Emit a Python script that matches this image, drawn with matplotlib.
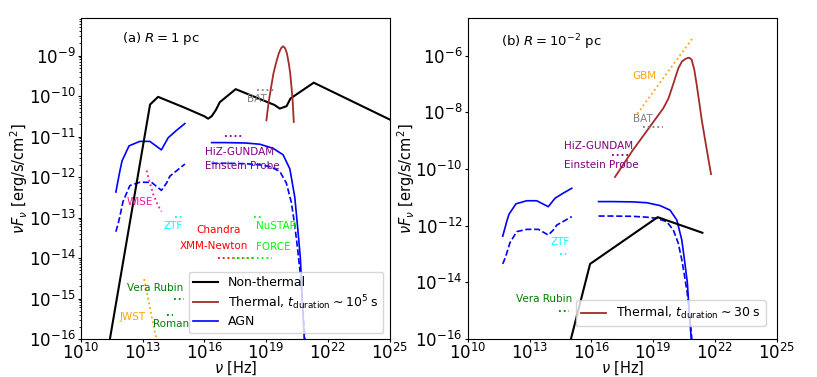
import numpy as np
import matplotlib
matplotlib.use("Agg")
import matplotlib.pyplot as plt

# ---------------- data (log10 nu [Hz], log10 nuFnu [erg/s/cm^2]) ----------------
# Panel (a) R = 1 pc
a_nonthermal_lognu = [11.41, 13.36, 13.75, 15.0, 16.0, 16.18, 16.35, 16.55, 16.75, 17.52, 19.4, 19.66, 19.99, 20.18, 21.31, 25.0]
a_nonthermal_logf = [-16.0, -10.21, -10.02, -10.28, -10.5, -10.56, -10.5, -10.35, -10.15, -9.83, -10.22, -10.31, -10.25, -10.06, -9.67, -10.58]

a_thermal_lognu = [19.01, 19.12, 19.24, 19.35, 19.47, 19.61, 19.72, 19.82, 19.92, 20.01, 20.1, 20.17, 20.23, 20.29, 20.34]
a_thermal_logf = [-10.6, -10.15, -9.78, -9.45, -9.2, -8.95, -8.82, -8.77, -8.82, -8.95, -9.2, -9.45, -9.78, -10.15, -10.64]

# AGN (same in both panels)
agn_opt_lognu = [11.70, 11.89, 12.0, 12.34, 12.86, 13.35, 13.91, 14.24, 14.64, 15.05]
agn_opt_logf = [-12.37, -11.86, -11.6, -11.23, -11.12, -11.12, -11.33, -11.03, -10.85, -10.68]
agn_opt_dash_lognu = [11.70, 11.81, 11.89, 12.05, 12.38, 12.86, 13.43, 13.91, 14.16, 14.32, 15.05]
agn_opt_dash_logf = [-13.35, -13.15, -12.98, -12.6, -12.21, -12.13, -12.13, -12.33, -12.15, -11.98, -11.68]
agn_x_lognu = [16.35, 17.0, 18.0, 18.69, 19.33, 19.82, 20.15, 20.39, 20.52, 20.66, 20.75, 20.85, 20.92]
agn_x_logf = [-11.15, -11.15, -11.16, -11.19, -11.29, -11.45, -11.8, -12.5, -13.2, -14.0, -15.0, -16.0, -16.8]
agn_x_dash_lognu = [16.35, 17.0, 18.0, 18.69, 19.17, 19.66, 19.98, 20.22, 20.39, 20.52, 20.66, 20.78, 20.87, 20.93]
agn_x_dash_logf = [-11.66, -11.66, -11.67, -11.70, -11.74, -11.86, -12.15, -12.62, -13.2, -13.75, -14.4, -15.2, -15.93, -16.6]

# Panel (b) R = 1e-2 pc
b_nonthermal_lognu = [15.01, 15.94, 19.22, 21.39]
b_nonthermal_logf = [-16.0, -13.35, -11.7, -12.25]
b_thermal_lognu = [17.15, 18.0, 19.0, 19.5, 19.75, 20.0, 20.22, 20.4, 20.6, 20.75, 20.87, 21.0, 21.12, 21.25, 21.36, 21.6, 21.81]
b_thermal_logf = [-10.28, -9.35, -8.35, -7.85, -7.5, -6.95, -6.45, -6.2, -6.1, -6.07, -6.14, -6.5, -7.05, -7.7, -8.27, -9.3, -10.18]

# Sensitivity segments: (label, color, lognu list, logf list)
a_sens = [
    ("WISE", "deeppink", [13.19, 13.32, 13.51, 13.75, 13.92], [-11.84, -12.09, -12.42, -12.71, -12.85]),
    ("ZTF", "cyan", [14.56, 14.94], [-12.99, -12.99]),
    ("Chandra/XMM", "red", [16.68, 18.46], [-14.0, -14.0]),
    ("FORCE", "lime", [17.38, 19.28], [-14.0, -14.0]),
    ("NuSTAR", "lime", [18.41, 18.77], [-12.99, -12.99]),
    ("Vera Rubin", "green", [14.51, 15.0], [-15.01, -15.01]),
    ("Roman", "green", [14.19, 14.48], [-15.41, -15.41]),
    ("JWST", "orange", [13.07, 13.22, 13.35, 13.51, 13.67], [-14.52, -14.89, -15.22, -15.63, -16.0]),
    ("HiZ-GUNDAM", "purple", [17.02, 17.9], [-10.99, -10.99]),
    ("BAT", "gray", [18.56, 19.5], [-9.84, -9.84]),
]
b_sens = [
    ("GBM", "orange", [18.23, 20.95], [-8.05, -5.35]),
    ("BAT", "gray", [18.53, 19.5], [-8.51, -8.51]),
    ("HiZ-GUNDAM", "purple", [16.99, 17.77], [-9.51, -9.51]),
    ("ZTF", "cyan", [14.48, 14.76], [-13.0, -13.0]),
    ("Vera Rubin", "green", [14.45, 14.93], [-15.02, -15.02]),
]

# Text labels: (text, color, lognu, logf, ha)
a_texts = [
    ("WISE", "deeppink", 12.85, -12.62, "center"),
    ("ZTF", "cyan", 14.5, -13.22, "center"),
    ("Chandra", "red", 16.69, -13.32, "center"),
    ("XMM-Newton", "red", 16.47, -13.70, "center"),
    ("NuSTAR", "lime", 19.51, -13.22, "center"),
    ("FORCE", "lime", 19.36, -13.74, "center"),
    ("Vera Rubin", "green", 13.61, -14.75, "center"),
    ("JWST", "orange", 12.5, -15.45, "center"),
    ("Roman", "green", 14.4, -15.63, "center"),
    ("BAT", "gray", 18.53, -10.07, "center"),
    ("HiZ-GUNDAM", "purple", 16.05, -11.37, "left"),
    ("Einstein Probe", "purple", 16.05, -11.74, "left"),
]
b_texts = [
    ("GBM", "orange", 17.99, -6.71, "left"),
    ("BAT", "gray", 18.5, -8.25, "center"),
    ("HiZ-GUNDAM", "purple", 14.69, -9.18, "left"),
    ("Einstein Probe", "purple", 14.69, -9.86, "left"),
    ("ZTF", "cyan", 14.47, -12.56, "center"),
    ("Vera Rubin", "green", 13.69, -14.60, "center"),
]

def p(v):
    return 10.0 ** np.asarray(v, dtype=float)

plt.rcParams['font.family'] = ['DejaVu Sans']

fig = plt.figure(figsize=(8.17, 3.77), dpi=100)
ax1 = fig.add_axes([0.099, 0.1008, 0.378, 0.8507])
ax2 = fig.add_axes([0.5725, 0.1008, 0.3782, 0.8507])

BROWN = "#a52a2a"
ANN_FS = 7.5

for ax in (ax1, ax2):
    ax.set_xscale("log")
    ax.set_yscale("log")
    ax.set_xlim(1e10, 1e25)
    ax.set_xticks([1e10, 1e13, 1e16, 1e19, 1e22, 1e25])
    ax.tick_params(axis="both", which="major", labelsize=12, length=2.5, pad=1.2)
    ax.tick_params(axis="x", which="major", pad=0.6)
    ax.tick_params(axis="both", which="minor", length=1.5)
    ax.set_xlabel(r"$\nu$ [Hz]", fontsize=10.5, labelpad=-2.5)
    ax.set_ylabel(r"$\nu F_\nu$ [erg/s/cm$^2$]", fontsize=10.5, labelpad=-1)
    # AGN
    ax.plot(p(agn_opt_lognu), p(agn_opt_logf), color="blue", lw=1.2)
    ax.plot(p(agn_opt_dash_lognu), p(agn_opt_dash_logf), color="blue", lw=1.2, ls="--")
    ax.plot(p(agn_x_lognu), p(agn_x_logf), color="blue", lw=1.2)
    ax.plot(p(agn_x_dash_lognu), p(agn_x_dash_logf), color="blue", lw=1.2, ls="--")

# Panel (a)
ax1.set_ylim(1e-16, 10 ** -8.08)
ax1.plot(p(a_nonthermal_lognu), p(a_nonthermal_logf), color="black", lw=1.5, label="Non-thermal")
ax1.plot(p(a_thermal_lognu), p(a_thermal_logf), color=BROWN, lw=1.3,
         label=r"Thermal, $t_{\rm duration}\sim10^5$ s")
ax1.plot([], [], color="blue", lw=1.2, label="AGN")
for name, c, xs, ys in a_sens:
    ax1.plot(p(xs), p(ys), color=c, ls=":", lw=1.3)
for t, c, x, y, ha in a_texts:
    ax1.text(10 ** x, 10 ** y, t, color=c, fontsize=ANN_FS, ha=ha, va="center")
ax1.text(0.132, 0.937, r"(a) $R=1$ pc", transform=ax1.transAxes, fontsize=9.5, va="center")
ax1.legend(loc="lower right", fontsize=9, labelspacing=0.3, borderpad=0.35)

# Panel (b)
ax2.set_ylim(1e-16, 10 ** -4.68)
ax2.plot(p(b_nonthermal_lognu), p(b_nonthermal_logf), color="black", lw=1.5)
ax2.plot(p(b_thermal_lognu), p(b_thermal_logf), color=BROWN, lw=1.3,
         label=r"Thermal, $t_{\rm duration}\sim30$ s")
for name, c, xs, ys in b_sens:
    ax2.plot(p(xs), p(ys), color=c, ls=":", lw=1.3)
for t, c, x, y, ha in b_texts:
    ax2.text(10 ** x, 10 ** y, t, color=c, fontsize=ANN_FS, ha=ha, va="center")
ax2.text(0.108, 0.924, r"(b) $R=10^{-2}$ pc", transform=ax2.transAxes, fontsize=9.5, va="center")
ax2.legend(loc="lower right", fontsize=9, bbox_to_anchor=(0.985, 0.02))

fig.savefig("out.png", dpi=100)
